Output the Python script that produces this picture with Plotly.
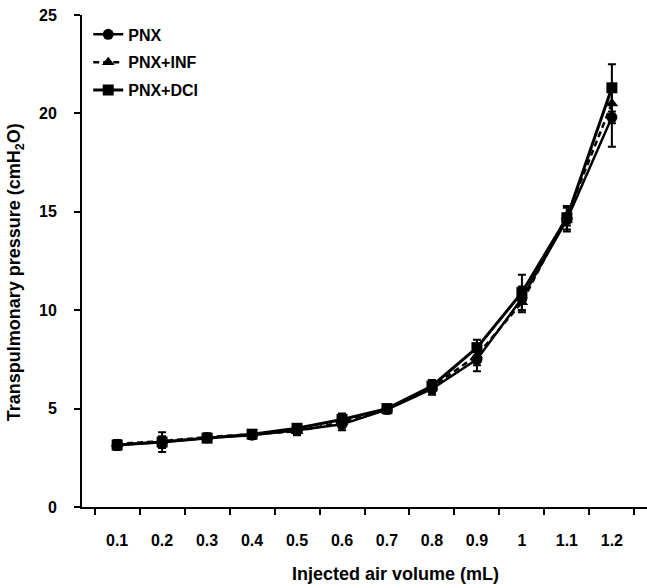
import plotly.graph_objects as go

# Injected air volume categories (mL)
volumes = ["0.1", "0.2", "0.3", "0.4", "0.5", "0.6", "0.7", "0.8", "0.9", "1", "1.1", "1.2"]

# Mean transpulmonary pressure (cmH2O) and error per group
pnx = [3.15, 3.3, 3.5, 3.65, 3.9, 4.2, 4.95, 6.0, 7.5, 10.6, 14.6, 19.8]
pnx_err = [0.25, 0.3, 0.2, 0.2, 0.2, 0.3, 0.2, 0.3, 0.6, 0.6, 0.6, 1.5]

pnx_inf = [3.2, 3.35, 3.55, 3.7, 3.85, 4.3, 5.0, 6.1, 7.7, 10.4, 14.8, 20.5]
pnx_inf_err = [0.2, 0.2, 0.2, 0.2, 0.2, 0.2, 0.2, 0.3, 0.5, 0.5, 0.5, 1.0]

pnx_dci = [3.15, 3.3, 3.5, 3.7, 4.0, 4.45, 5.0, 6.15, 8.1, 10.9, 14.7, 21.3]
pnx_dci_err = [0.2, 0.5, 0.2, 0.2, 0.2, 0.3, 0.2, 0.3, 0.4, 0.9, 0.6, 1.2]

y_ticks = [0, 5, 10, 15, 20, 25]

FONT = "Liberation Sans, Arial, sans-serif"

series = [
    ("PNX", pnx, pnx_err, "circle", "solid", 2.5),
    ("PNX+INF", pnx_inf, pnx_inf_err, "triangle-up", "6px,4px", 2.5),
    ("PNX+DCI", pnx_dci, pnx_dci_err, "square", "solid", 3),
]

fig = go.Figure()
for name, vals, errs, sym, dash, lw in series:
    fig.add_trace(go.Scatter(
        x=volumes, y=vals, name=name, legendgroup=name, mode="lines+markers",
        line=dict(color="black", width=lw, dash=dash),
        marker=dict(symbol=sym, size=11, color="black"),
        error_y=dict(type="data", array=errs, visible=True,
                     color="black", thickness=2, width=4),
    ))

fig.update_layout(
    width=647, height=588,
    margin=dict(l=82, r=0, t=15, b=81, autoexpand=False),
    paper_bgcolor="white", plot_bgcolor="white",
    font=dict(family=FONT, color="black", size=16),
    showlegend=True,
    legend=dict(
        x=0.011, y=0.995, xanchor="left", yanchor="top",
        bgcolor="rgba(0,0,0,0)", borderwidth=0,
        font=dict(family=FONT, size=16, weight="bold"),
        tracegroupgap=4, itemwidth=30,
    ),
    annotations=[
        dict(text="<b>Injected air volume (mL)</b>", xref="paper", yref="paper",
             x=(395 - 82) / 565, y=-0.137, xanchor="center", yanchor="middle",
             showarrow=False, font=dict(family=FONT, size=18)),
        dict(text="<b>Transpulmonary pressure (cmH<sub>2</sub>O)</b>",
             xref="paper", yref="paper", x=-0.118, y=(507 - 272) / 492,
             xanchor="center", yanchor="middle", textangle=-90,
             showarrow=False, font=dict(family=FONT, size=18)),
    ],
)

fig.update_xaxes(
    type="category", tickson="boundaries", automargin=False,
    showline=True, linecolor="black", linewidth=2,
    ticks="outside", ticklen=6, tickwidth=2, tickcolor="black",
    showgrid=False, zeroline=False,
    tickfont=dict(family=FONT, size=16, weight="bold"),
    ticklabelstandoff=18,
)
fig.update_yaxes(
    range=[0, 25], tickvals=y_ticks, automargin=False,
    showline=True, linecolor="black", linewidth=2,
    ticks="outside", ticklen=6, tickwidth=2, tickcolor="black",
    showgrid=False, zeroline=False,
    tickfont=dict(family=FONT, size=16, weight="bold"),
    ticklabelstandoff=14,
)

fig.write_html("out.html")
